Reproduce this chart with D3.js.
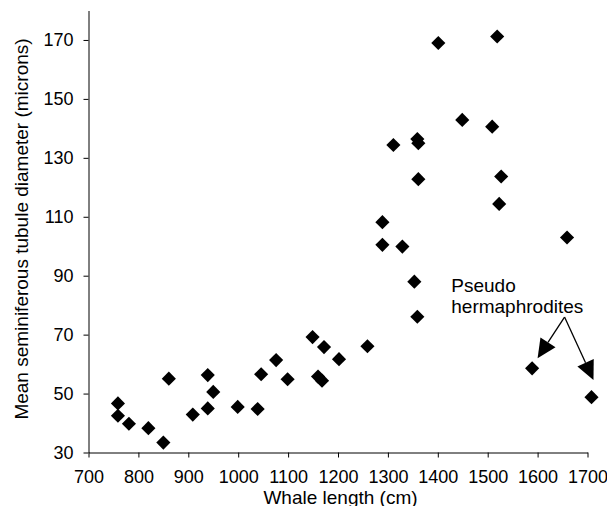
<!DOCTYPE html>
<html>
<head>
<meta charset="utf-8">
<script src="https://cdn.jsdelivr.net/npm/d3@7"></script>
<style>
  body { margin: 0; background: #fff; }
  svg text { font-family: 'Liberation Sans', Arial, sans-serif; fill: #000; }
</style>
</head>
<body>
<script>
'use strict';

// whale length (cm) and mean tubule diameter (microns)
const whaleLength = [
  760, 760, 782, 821, 851, 862, 910, 940, 940, 951,
  1000, 1040, 1047, 1077, 1100, 1150, 1161, 1169, 1173, 1203,
  1260, 1290, 1290, 1312, 1330, 1354, 1360, 1360, 1362, 1362,
  1402, 1450, 1510, 1520, 1524, 1528, 1590, 1660, 1709
];
const tubuleDiameter = [
  46.5, 42.3, 39.6, 38.1, 33.2, 54.9, 42.7, 56.1, 44.8, 50.4,
  45.3, 44.6, 56.4, 61.2, 54.7, 69.0, 55.6, 54.2, 65.6, 61.5,
  65.9, 108.0, 100.3, 134.2, 99.7, 87.8, 75.9, 136.2, 134.8, 122.6,
  168.8, 142.7, 140.4, 171.0, 114.2, 123.5, 58.4, 102.8, 48.6
];

const xTicks = [700, 800, 900, 1000, 1100, 1200, 1300, 1400, 1500, 1600, 1700];
const yTicks = [30, 50, 70, 90, 110, 130, 150, 170];

const xLabel = 'Whale length (cm)';
const yLabel = 'Mean seminiferous tubule diameter (microns)';
const noteLines = ['Pseudo', 'hermaphrodites'];

(function() {
  const width = 607;
  const height = 506;

  const svg = d3.select('body')
    .append('svg')
    .attr('width', width)
    .attr('height', height);

  // scales
  const xScale = d3.scaleLinear().domain([700, 1700]).range([88, 587]);
  const yScale = d3.scaleLinear().domain([30, 180]).range([452, 10]);

  // x axis
  const xAxis = svg.append('g')
    .attr('transform', 'translate(0.5, 452.5)')
    .call(d3.axisBottom(xScale).tickValues(xTicks).tickFormat(d3.format('d'))
      .tickSize(5).tickSizeOuter(0).tickPadding(13));

  // y axis
  const yAxis = svg.append('g')
    .attr('transform', 'translate(88.5, 0.5)')
    .call(d3.axisLeft(yScale).tickValues(yTicks)
      .tickSize(5).tickSizeOuter(0).tickPadding(10));

  [xAxis, yAxis].forEach(g => {
    g.selectAll('path, line').attr('stroke', '#000').attr('stroke-width', 1);
    g.selectAll('text')
      .style('font-family', "'Liberation Sans', Arial, sans-serif")
      .style('font-size', '18px')
      .attr('fill', '#000');
  });

  // axis titles (the reference crops the bottom of the x title)
  svg.append('text')
    .attr('x', (xScale.range()[0] + xScale.range()[1]) / 2 + 3)
    .attr('y', 504)
    .attr('text-anchor', 'middle')
    .style('font-size', '19px')
    .text(xLabel);

  svg.append('text')
    .attr('transform', 'translate(28, ' + ((yScale.range()[0] + yScale.range()[1]) / 2 - 2) + ') rotate(-90)')
    .attr('text-anchor', 'middle')
    .style('font-size', '19px')
    .text(yLabel);

  // diamonds
  const points = whaleLength.map((x, i) => ({ x: x, y: tubuleDiameter[i] }));
  const diamond = d3.symbol().type(d3.symbolSquare).size(100);

  svg.append('g')
    .selectAll('path')
    .data(points)
    .enter()
    .append('path')
    .attr('d', diamond)
    .attr('transform', d => 'translate(' + xScale(d.x) + ',' + yScale(d.y) + ') rotate(45)')
    .attr('fill', '#000');

  // annotation text
  svg.append('text')
    .attr('x', xScale(1428))
    .attr('y', yScale(84.3))
    .style('font-size', '19px')
    .selectAll('tspan')
    .data(noteLines)
    .enter()
    .append('tspan')
    .attr('x', xScale(1428))
    .attr('dy', (d, i) => i === 0 ? 0 : 21)
    .text(d => d);

  // arrows from the label to the two pseudo hermaphrodites
  const arrowFrom = { x: 1655, y: 75.8 };
  const arrowTips = [{ x: 1601, y: 61.8 }, { x: 1713, y: 54.4 }];
  const headLen = 19;
  const headHalf = 9;

  arrowTips.forEach(tip => {
    const x0 = xScale(arrowFrom.x);
    const y0 = yScale(arrowFrom.y);
    const x1 = xScale(tip.x);
    const y1 = yScale(tip.y);
    const len = Math.hypot(x1 - x0, y1 - y0);
    const ux = (x1 - x0) / len;
    const uy = (y1 - y0) / len;
    const bx = x1 - ux * headLen;
    const by = y1 - uy * headLen;

    svg.append('line')
      .attr('x1', x0)
      .attr('y1', y0)
      .attr('x2', bx)
      .attr('y2', by)
      .attr('stroke', '#000')
      .attr('stroke-width', 1.3);

    svg.append('path')
      .attr('d', 'M' + x1 + ',' + y1 +
        'L' + (bx - uy * headHalf) + ',' + (by + ux * headHalf) +
        'L' + (bx + uy * headHalf) + ',' + (by - ux * headHalf) + 'Z')
      .attr('fill', '#000');
  });
})();
</script>
</body>
</html>
